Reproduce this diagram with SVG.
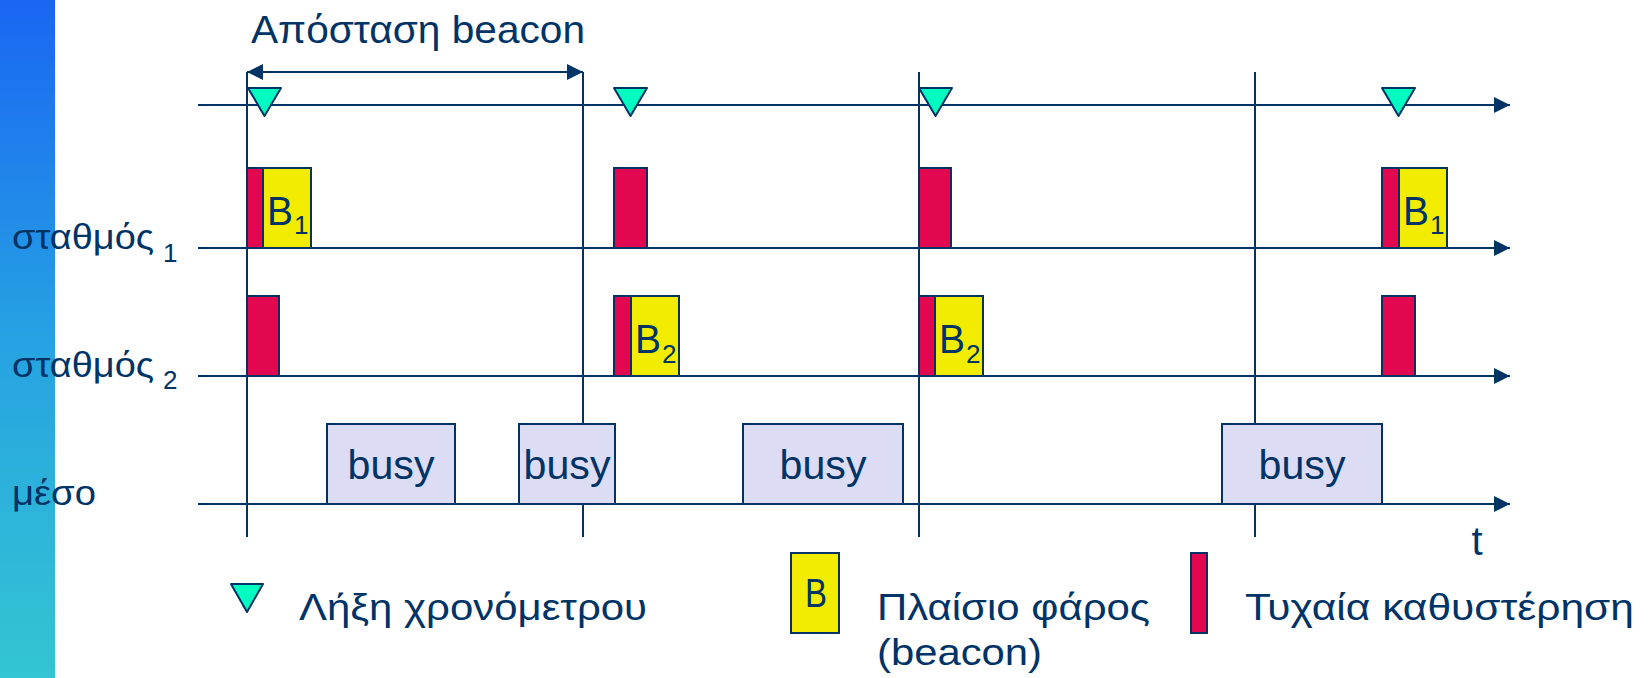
<svg xmlns="http://www.w3.org/2000/svg" width="1648" height="678" viewBox="0 0 1648 678">
<defs>
<linearGradient id="bar" x1="0" y1="0" x2="0" y2="1">
<stop offset="0" stop-color="#1a66f3"/>
<stop offset="0.5" stop-color="#26a2e2"/>
<stop offset="1" stop-color="#33c5d2"/>
</linearGradient>
<marker id="ah" markerUnits="userSpaceOnUse" markerWidth="16" markerHeight="16" viewBox="0 0 16 16" refX="16" refY="8" orient="auto-start-reverse">
<path d="M0,0 L16,8 L0,16 Z" fill="#003366"/>
</marker>
</defs>
<style>
.ln{stroke:#003366;stroke-width:2;fill:none}
.red{fill:#e2074f;stroke:#003366;stroke-width:2}
.yel{fill:#f2ed00;stroke:#003366;stroke-width:2}
.busy{fill:#dcdcf4;stroke:#003366;stroke-width:2}
.tri{fill:#00fcc0;stroke:#003366;stroke-width:2;stroke-linejoin:round}
text{font-family:"Liberation Sans","DejaVu Sans",sans-serif;fill:#003366}
.lbl{font-size:35px}
.sub{font-size:26px}
.b{font-size:41px}
.bz{font-size:40px;text-anchor:middle}
.lg{font-size:37px}
</style>
<rect x="0" y="0" width="55" height="678" fill="url(#bar)"/>
<g id="connectors">
<line class="ln" x1="198" y1="105" x2="1510" y2="105" marker-end="url(#ah)"/>
<line class="ln" x1="198" y1="248" x2="1510" y2="248" marker-end="url(#ah)"/>
<line class="ln" x1="198" y1="376" x2="1510" y2="376" marker-end="url(#ah)"/>
<line class="ln" x1="198" y1="504" x2="1510" y2="504" marker-end="url(#ah)"/>
<line class="ln" x1="247" y1="72" x2="247" y2="537"/>
<line class="ln" x1="583" y1="72" x2="583" y2="537"/>
<line class="ln" x1="919" y1="72" x2="919" y2="537"/>
<line class="ln" x1="1255" y1="72" x2="1255" y2="537"/>
<line class="ln" x1="247" y1="72" x2="583" y2="72" marker-start="url(#ah)" marker-end="url(#ah)"/>
</g>
<g id="title"><text x="251" y="43" font-size="39" textLength="334" lengthAdjust="spacingAndGlyphs">Απόσταση beacon</text></g>
<g id="labels">
<text class="lbl" x="12" y="249" textLength="142" lengthAdjust="spacingAndGlyphs">σταθμός</text><text class="sub" x="163" y="262">1</text>
<text class="lbl" x="12" y="377" textLength="142" lengthAdjust="spacingAndGlyphs">σταθμός</text><text class="sub" x="163" y="389">2</text>
<text class="lbl" x="12" y="505" textLength="84" lengthAdjust="spacingAndGlyphs">μέσο</text>
</g>
<g id="timers">
<path class="tri" d="M248,88 L281,88 L264.5,116 Z"/>
<path class="tri" d="M614,88 L647,88 L630.5,116 Z"/>
<path class="tri" d="M919,88 L952,88 L935.5,116 Z"/>
<path class="tri" d="M1382,88 L1415,88 L1398.5,116 Z"/>
</g>
<g id="station1">
<rect class="red" x="247" y="168" width="16" height="80"/>
<rect class="yel" x="263" y="168" width="48" height="80"/>
<text class="b" x="267" y="225" textLength="26" lengthAdjust="spacingAndGlyphs">B</text><text class="sub" x="294" y="234">1</text>
<rect class="red" x="614" y="168" width="33" height="80"/>
<rect class="red" x="919" y="168" width="32" height="80"/>
<rect class="red" x="1382" y="168" width="17" height="80"/>
<rect class="yel" x="1399" y="168" width="48" height="80"/>
<text class="b" x="1403" y="225" textLength="26" lengthAdjust="spacingAndGlyphs">B</text><text class="sub" x="1430" y="234">1</text>
</g>
<g id="station2">
<rect class="red" x="247" y="296" width="32" height="80"/>
<rect class="red" x="614" y="296" width="17" height="80"/>
<rect class="yel" x="631" y="296" width="48" height="80"/>
<text class="b" x="635" y="353" textLength="26" lengthAdjust="spacingAndGlyphs">B</text><text class="sub" x="662" y="363">2</text>
<rect class="red" x="919" y="296" width="16" height="80"/>
<rect class="yel" x="935" y="296" width="48" height="80"/>
<text class="b" x="939" y="353" textLength="26" lengthAdjust="spacingAndGlyphs">B</text><text class="sub" x="966" y="363">2</text>
<rect class="red" x="1382" y="296" width="33" height="80"/>
</g>
<g id="medium">
<rect class="busy" x="327" y="424" width="128" height="80"/>
<text class="bz" x="391" y="479" textLength="87" lengthAdjust="spacingAndGlyphs">busy</text>
<rect class="busy" x="519" y="424" width="96" height="80"/>
<text class="bz" x="567" y="479" textLength="87" lengthAdjust="spacingAndGlyphs">busy</text>
<rect class="busy" x="743" y="424" width="160" height="80"/>
<text class="bz" x="823" y="479" textLength="87" lengthAdjust="spacingAndGlyphs">busy</text>
<rect class="busy" x="1222" y="424" width="160" height="80"/>
<text class="bz" x="1302" y="479" textLength="87" lengthAdjust="spacingAndGlyphs">busy</text>
</g>
<g id="time-label"><text x="1477" y="555" font-size="40" text-anchor="middle">t</text></g>
<g id="legend">
<path class="tri" d="M231,584 L263,584 L247,612 Z"/>
<text class="lg" x="299" y="620" textLength="348" lengthAdjust="spacingAndGlyphs">Λήξη χρονόμετρου</text>
<rect class="yel" x="791" y="553" width="48" height="80"/>
<text x="805" y="607" font-size="40" textLength="22" lengthAdjust="spacingAndGlyphs">B</text>
<text class="lg" x="877" y="620" textLength="273" lengthAdjust="spacingAndGlyphs">Πλαίσιο φάρος</text>
<text class="lg" x="877" y="665" textLength="165" lengthAdjust="spacingAndGlyphs">(beacon)</text>
<rect class="red" x="1191" y="553" width="16" height="80"/>
<text class="lg" x="1245" y="620" textLength="389" lengthAdjust="spacingAndGlyphs">Τυχαία καθυστέρηση</text>
</g>
</svg>
